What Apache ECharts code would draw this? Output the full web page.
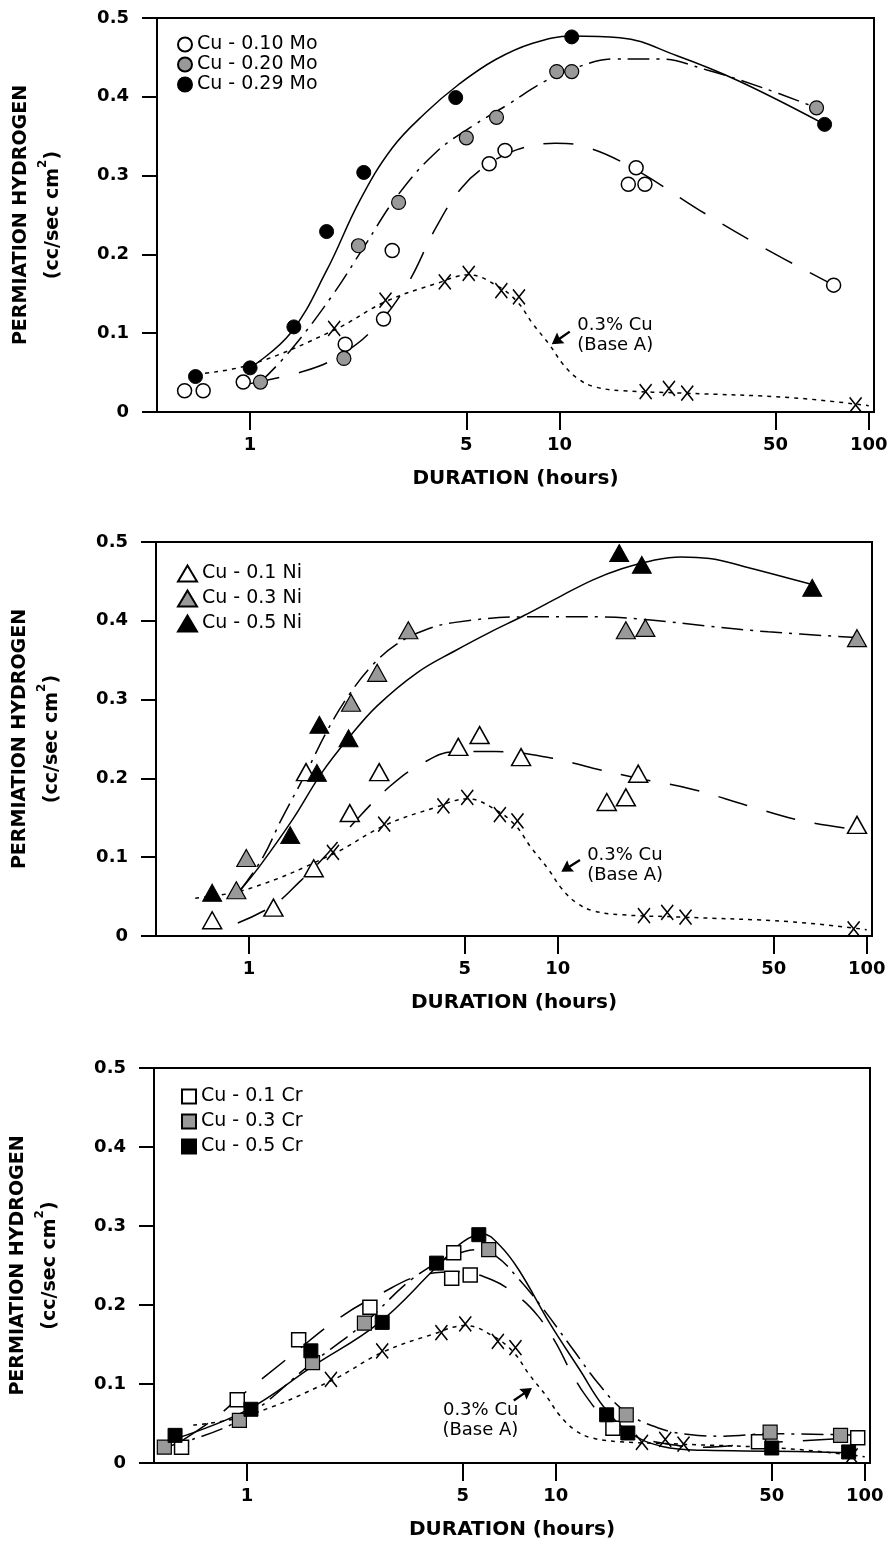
<!DOCTYPE html>
<html>
<head>
<meta charset="utf-8">
<script src="https://cdn.jsdelivr.net/npm/echarts@6/dist/echarts.min.js"></script>
<style>
  html, body { margin: 0; background: #fff; }
  #chart { width: 893px; height: 1551px; }
</style>
</head>
<body>
<div id="chart"></div>
<script>
// tick positions
const xTicks = [1, 5, 10, 50, 100];
const yTicks = [0, 0.1, 0.2, 0.3, 0.4, 0.5];

// 0.3% Cu (Base A) - same reference curve in every panel
const baseAPts = [[1.87, 0.106], [2.74, 0.142], [4.26, 0.165], [5.09, 0.176], [6.49, 0.154], [7.4, 0.146],
  [19.0, 0.026], [22.6, 0.030], [25.9, 0.024], [90.7, 0.009]];
const baseACurve = [[0.67, 0.048], [1.0, 0.060], [1.87, 0.104], [2.74, 0.140], [4.0, 0.163], [5.1, 0.174],
  [6.3, 0.16], [7.3, 0.14], [8.2, 0.112], [9.3, 0.085], [10.3, 0.06], [11.5, 0.042], [13, 0.032],
  [16, 0.027], [25, 0.024], [57, 0.018], [100, 0.008]];

// Mo panel
const moNames = ['Cu - 0.10 Mo', 'Cu - 0.20 Mo', 'Cu - 0.29 Mo'];
const mo10 = [[0.614, 0.027], [0.705, 0.027], [0.95, 0.038], [2.03, 0.086], [2.70, 0.118], [2.88, 0.205],
  [5.93, 0.315], [6.67, 0.332], [17.7, 0.310], [16.7, 0.289], [18.9, 0.289], [77, 0.161]];
const mo20 = [[1.08, 0.038], [2.01, 0.068], [2.24, 0.211], [3.02, 0.266], [5.0, 0.348], [6.26, 0.374],
  [9.8, 0.432], [10.96, 0.432], [67.8, 0.386]];
const mo29 = [[0.666, 0.045], [1.0, 0.056], [1.385, 0.108], [1.767, 0.229], [2.33, 0.304], [4.62, 0.399],
  [10.96, 0.476], [72, 0.365]];
const mo10Fit = [[1.0, 0.036], [1.5, 0.052], [1.92, 0.070], [2.5, 0.105], [3.2, 0.16], [4.0, 0.235],
  [4.84, 0.285], [5.93, 0.315], [7.3, 0.333], [9.7, 0.341], [12, 0.337], [17.2, 0.31], [28.4, 0.256],
  [45, 0.21], [77, 0.161]];
const mo20Fit = [[1.08, 0.038], [1.35, 0.078], [1.83, 0.146], [2.33, 0.209], [3.0, 0.275], [4.0, 0.33],
  [5.2, 0.362], [6.8, 0.39], [9.0, 0.42], [11.5, 0.438], [15, 0.448], [21, 0.448], [30, 0.434],
  [45, 0.412], [67.8, 0.386]];
const mo29Fit = [[1.0, 0.056], [1.35, 0.10], [1.77, 0.18], [2.26, 0.268], [2.88, 0.335], [3.7, 0.38],
  [4.7, 0.415], [6.2, 0.447], [8.2, 0.468], [11, 0.477], [15.7, 0.475], [24, 0.452], [38, 0.42],
  [72, 0.365]];

// Ni panel
const niNames = ['Cu - 0.1 Ni', 'Cu - 0.3 Ni', 'Cu - 0.5 Ni'];
const ni1 = [[0.76, 0.020], [1.2, 0.036], [1.62, 0.086], [1.53, 0.208], [2.12, 0.156], [2.64, 0.208],
  [4.76, 0.24], [5.58, 0.255], [7.6, 0.227], [14.4, 0.17], [16.6, 0.176], [18.2, 0.206], [93, 0.141]];
const ni3 = [[0.91, 0.058], [0.98, 0.099], [2.14, 0.296], [2.6, 0.334], [3.28, 0.388], [16.6, 0.388],
  [19.2, 0.391], [93, 0.378]];
const ni5 = [[0.76, 0.055], [1.36, 0.128], [1.66, 0.207], [1.69, 0.268], [2.10, 0.251], [15.8, 0.486],
  [18.7, 0.471], [66.6, 0.442]];
const ni1Fit = [[0.92, 0.0165], [1.2, 0.039], [1.46, 0.069], [1.8, 0.105], [2.2, 0.145], [2.86, 0.19],
  [3.6, 0.218], [4.65, 0.234], [6.3, 0.234], [9.5, 0.226], [13, 0.213], [18.3, 0.20], [27.4, 0.186],
  [40.7, 0.166], [62, 0.146], [93, 0.135]];
const ni3Fit = [[0.937, 0.058], [1.11, 0.10], [1.27, 0.147], [1.53, 0.207], [1.80, 0.262], [2.1, 0.305],
  [2.5, 0.343], [3.0, 0.370], [3.7, 0.388], [4.65, 0.398], [7.8, 0.405], [13.7, 0.405], [20, 0.401],
  [31, 0.393], [48, 0.386], [100, 0.378]];
const ni5Fit = [[0.937, 0.058], [1.08, 0.088], [1.38, 0.147], [1.72, 0.207], [2.12, 0.253], [2.6, 0.292],
  [3.5, 0.334], [4.65, 0.362], [6.0, 0.385], [7.8, 0.407], [10.3, 0.432], [13, 0.452], [16.1, 0.466],
  [20, 0.476], [25, 0.481], [31, 0.479], [40, 0.469], [66.6, 0.446]];

// Cr panel
const crNames = ['Cu - 0.1 Cr', 'Cu - 0.3 Cr', 'Cu - 0.5 Cr'];
const cr1 = [[0.614, 0.020], [0.93, 0.080], [1.47, 0.156], [2.5, 0.197], [4.67, 0.266], [4.6, 0.234],
  [5.28, 0.238], [15.3, 0.044], [45.3, 0.027], [94.9, 0.032]];
const cr3 = [[0.54, 0.020], [0.945, 0.054], [1.63, 0.127], [2.4, 0.177], [6.06, 0.27], [16.9, 0.061],
  [49.4, 0.039], [83.5, 0.035]];
const cr5 = [[0.585, 0.035], [1.03, 0.068], [1.61, 0.142], [2.74, 0.178], [4.11, 0.253], [5.63, 0.289],
  [14.6, 0.061], [17.1, 0.038], [50, 0.019], [88.7, 0.014]];
const cr1Fit = [[0.62, 0.029], [0.79, 0.057], [0.95, 0.084], [1.40, 0.137], [1.98, 0.183], [2.7, 0.214],
  [3.7, 0.238], [4.8, 0.242], [6.2, 0.232], [7.6, 0.21], [8.8, 0.185], [10, 0.152], [11.2, 0.115],
  [12.5, 0.085], [14.6, 0.054], [17.8, 0.035], [23, 0.024], [30, 0.02], [45, 0.025], [95, 0.032]];
const cr3Fit = [[0.54, 0.020], [0.945, 0.054], [1.63, 0.127], [2.4, 0.177], [3.4, 0.232], [4.5, 0.26],
  [5.6, 0.27], [6.4, 0.262], [7.5, 0.235], [8.9, 0.2], [11.4, 0.143], [13.9, 0.098], [16.9, 0.064],
  [21.6, 0.044], [27, 0.036], [35, 0.034], [49.4, 0.037], [100, 0.035]];
const cr5Fit = [[0.6, 0.032], [1.0, 0.067], [1.64, 0.123], [2.67, 0.177], [4.11, 0.248], [5.0, 0.28],
  [5.8, 0.29], [6.6, 0.275], [7.6, 0.244], [9.55, 0.177], [11.95, 0.118], [14.3, 0.071], [17.4, 0.038],
  [22.1, 0.021], [30.5, 0.016], [50, 0.015], [88.7, 0.013]];

const FONT = 'DejaVu Sans';
const OPEN = { color: '#fff', borderColor: '#000', borderWidth: 1.5, opacity: 1 };
const GREY = { color: '#999', borderColor: '#000', borderWidth: 1.2, opacity: 1 };
const SOLID = { color: '#000', borderColor: '#000', borderWidth: 1, opacity: 1 };
const LONG = [30, 20], DASHDOT = [22, 7, 3, 7], DOTTED = [4, 5];
const X_MARK = 'path://M0 0L10 12M10 0L0 12';
const ARROW = 'path://M5 0L10 10L5.9 9L5.9 20L4.1 20L4.1 9L0 10Z';

const panels = [
  {
    grid: { left: 157, top: 18, width: 717, height: 394 },
    legend: { left: 172, top: 30, itemGap: 1, itemWidth: 14, itemHeight: 14, data: moNames },
    sets: [
      { name: moNames[0], pts: mo10, fit: mo10Fit, dash: LONG, symbol: 'circle', size: 14, style: OPEN },
      { name: moNames[1], pts: mo20, fit: mo20Fit, dash: DASHDOT, symbol: 'circle', size: 14, style: GREY },
      { name: moNames[2], pts: mo29, fit: mo29Fit, dash: 'solid', symbol: 'circle', size: 14, style: SOLID },
    ],
    arrowAt: [10.1, 0.094], arrowRot: 125,
    note: { position: 'right', distance: 16, offset: [0, -3] },
  },
  {
    grid: { left: 156, top: 542, width: 716, height: 394 },
    legend: { left: 172, top: 559, itemGap: 6, itemWidth: 19, itemHeight: 16, data: niNames },
    sets: [
      { name: niNames[0], pts: ni1, fit: ni1Fit, dash: LONG, symbol: 'triangle', size: [19, 17], style: OPEN },
      { name: niNames[1], pts: ni3, fit: ni3Fit, dash: DASHDOT, symbol: 'triangle', size: [19, 17], style: GREY },
      { name: niNames[2], pts: ni5, fit: ni5Fit, dash: 'solid', symbol: 'triangle', size: [19, 17], style: SOLID },
    ],
    arrowAt: [11.0, 0.089], arrowRot: 122,
    note: { position: 'right', distance: 16, offset: [0, -1] },
  },
  {
    grid: { left: 154, top: 1068, width: 716, height: 395 },
    legend: { left: 176, top: 1082, itemGap: 6, itemWidth: 14, itemHeight: 14, data: crNames },
    sets: [
      { name: crNames[0], pts: cr1, fit: cr1Fit, dash: LONG, symbol: 'rect', size: 14, style: OPEN },
      { name: crNames[1], pts: cr3, fit: cr3Fit, dash: DASHDOT, symbol: 'rect', size: 14, style: GREY },
      { name: crNames[2], pts: cr5, fit: cr5Fit, dash: 'solid', symbol: 'rect', size: 14, style: SOLID },
    ],
    arrowAt: [7.82, 0.087], arrowRot: -56,
    note: { position: 'left', distance: 4, offset: [0, 26] },
  },
];

const textBase = { color: '#000', fontFamily: FONT };
const yName = '{a|PERMIATION HYDROGEN}\n{b|(cc/sec cm}{s|2}{b|)}';

const grid = [], xAxis = [], yAxis = [], legend = [], series = [];

panels.forEach((p, i) => {
  grid.push(Object.assign({ show: true, borderColor: '#000', borderWidth: 2, backgroundColor: 'transparent' }, p.grid));

  xAxis.push({
    type: 'log', logBase: 10, gridIndex: i, min: 0.5, max: 104,
    name: 'DURATION (hours)', nameLocation: 'middle', nameGap: 57,
    nameTextStyle: Object.assign({ fontWeight: 'bold', fontSize: 20 }, textBase),
    axisLine: { show: true, onZero: false, lineStyle: { color: '#000', width: 2 } },
    axisTick: { show: true, customValues: xTicks, length: 18, lineStyle: { color: '#000', width: 2 } },
    minorTick: { show: false },
    axisLabel: Object.assign({ customValues: xTicks, margin: 24, fontWeight: 'bold', fontSize: 18,
      formatter: v => String(Math.round(v)) }, textBase),
    splitLine: { show: false },
  });

  yAxis.push({
    type: 'value', gridIndex: i, min: 0, max: 0.5, interval: 0.1,
    name: yName, nameLocation: 'middle', nameGap: 88, nameRotate: 90,
    nameTextStyle: {
      rich: {
        a: Object.assign({ fontWeight: 'bold', fontSize: 19, lineHeight: 32 }, textBase),
        b: Object.assign({ fontWeight: 'bold', fontSize: 19, lineHeight: 32 }, textBase),
        s: Object.assign({ fontWeight: 'bold', fontSize: 12, lineHeight: 16, verticalAlign: 'top' }, textBase),
      },
    },
    axisLine: { show: true, onZero: false, lineStyle: { color: '#000', width: 2 } },
    axisTick: { show: true, length: 15, lineStyle: { color: '#000', width: 2 } },
    axisLabel: Object.assign({ margin: 28, fontWeight: 'bold', fontSize: 18,
      formatter: v => (v === 0 ? '0' : v.toFixed(1)) }, textBase),
    splitLine: { show: false },
  });

  legend.push(Object.assign({
    orient: 'vertical', selectedMode: false,
    textStyle: Object.assign({ fontSize: 19 }, textBase),
  }, p.legend));

  p.sets.forEach(s => {
    series.push({
      type: 'line', xAxisIndex: i, yAxisIndex: i, data: s.fit, smooth: 0.4,
      symbol: 'none', silent: true, z: 3,
      lineStyle: { color: '#000', width: 1.5, type: s.dash },
    });
  });
  series.push({
    type: 'line', xAxisIndex: i, yAxisIndex: i, data: baseACurve, smooth: 0.4,
    symbol: 'none', silent: true, z: 3,
    lineStyle: { color: '#000', width: 1.5, type: DOTTED },
  });

  p.sets.forEach(s => {
    series.push({
      name: s.name, type: 'scatter', xAxisIndex: i, yAxisIndex: i, data: s.pts,
      symbol: s.symbol, symbolSize: s.size, itemStyle: s.style, z: 5,
    });
  });

  series.push({
    type: 'scatter', xAxisIndex: i, yAxisIndex: i, data: baseAPts,
    symbol: X_MARK, symbolSize: [12, 15], z: 5,
    itemStyle: { color: 'rgba(0,0,0,0)', borderColor: '#000', borderWidth: 1.6, opacity: 1 },
    markPoint: {
      silent: true,
      data: [
        { coord: p.arrowAt, symbol: ARROW, symbolSize: [13, 22], symbolRotate: p.arrowRot,
          itemStyle: { color: '#000' }, label: { show: false } },
        { coord: p.arrowAt, symbol: 'circle', symbolSize: 1, itemStyle: { color: 'rgba(0,0,0,0)' },
          label: Object.assign({ show: true, formatter: '0.3% Cu\n(Base A)', fontSize: 18, lineHeight: 20,
            position: p.note.position, distance: p.note.distance, offset: p.note.offset }, textBase) },
      ],
    },
  });
});

const chart = echarts.init(document.getElementById('chart'));
chart.setOption({
  animation: false,
  backgroundColor: '#fff',
  grid, xAxis, yAxis, legend, series,
});
</script>
</body>
</html>
